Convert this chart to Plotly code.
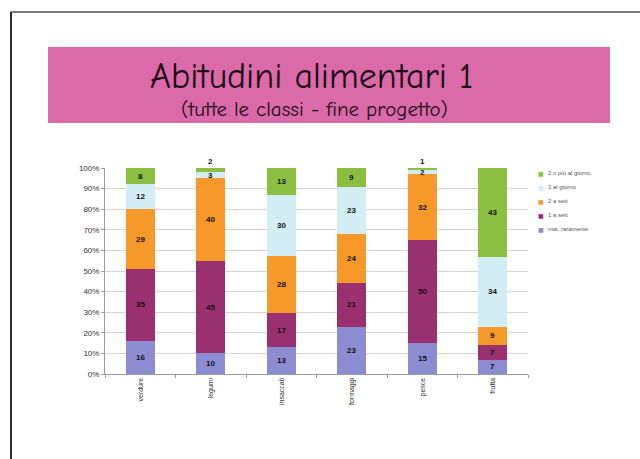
import numpy as np
import plotly.graph_objects as go

categories = ["verdure", "legumi", "insaccati", "formaggi", "pesce", "frutta"]

mai_raramente = [16, 10, 13, 23, 15, 7]
una_sett = [35, 45, 17, 21, 50, 7]
due_sett = [29, 40, 28, 24, 32, 9]
uno_giorno = [12, 3, 30, 23, 2, 34]
due_piu_giorno = [8, 2, 13, 9, 1, 43]

series = [
    ("mai, raramente", mai_raramente, "#8C8CD2"),
    ("1 a sett", una_sett, "#9B3070"),
    ("2 a sett", due_sett, "#F7982A"),
    ("1 al giorno", uno_giorno, "#D3EEF5"),
    ("2 o più al giorno", due_piu_giorno, "#8CBF3F"),
]

y_ticks = list(range(0, 101, 10))
y_tick_labels = [f"{v}%" for v in y_ticks]

fig = go.Figure()
for name, vals, color in series:
    fig.add_trace(go.Bar(
        name=name, x=categories, y=vals,
        marker=dict(color=color, line=dict(width=0)),
        showlegend=False,
    ))

# value labels, positioned from the normalised stack
raw = np.array([s[1] for s in series], dtype=float)
totals = raw.sum(axis=0)
pct = raw / totals * 100
tops = np.cumsum(pct, axis=0)
mids = tops - pct / 2
label_font = dict(size=8, color="#111111", family="Liberation Sans, Arial")
annotations = []
n_series = len(series)
for i in range(n_series):
    for j, cat in enumerate(categories):
        v = raw[i, j]
        if i == n_series - 1 and v < 3:
            annotations.append(dict(
                x=cat, y=100, xref="x", yref="y", text=f"<b>{int(v)}</b>",
                showarrow=False, yanchor="bottom", font=label_font,
            ))
        else:
            annotations.append(dict(
                x=cat, y=mids[i, j], xref="x", yref="y", text=f"<b>{int(v)}</b>",
                showarrow=False, font=label_font,
            ))

# compact legend, top entry first
for k, (name, _, color) in enumerate(reversed(series)):
    yk = (374 - (173 + 14 * k)) / 206
    annotations.append(dict(
        x=1.0307, y=yk, xref="paper", yref="paper", text="■",
        showarrow=False, xanchor="center", yanchor="middle",
        font=dict(size=6, color=color, family="DejaVu Sans"),
    ))
    annotations.append(dict(
        x=1.0426, y=yk, xref="paper", yref="paper", text=name,
        showarrow=False, xanchor="left", yanchor="middle",
        font=dict(size=6, color="#555555", family="Liberation Sans, Arial"),
    ))

# slide heading
heading_font = "Comic Sans MS, Comic Neue, Lato, sans-serif"
annotations.append(dict(
    x=0.487, y=1.335, xref="paper", yref="paper", text="Abitudini alimentari 1",
    showarrow=False, yanchor="bottom",
    font=dict(size=36, color="#1a0a14", family=heading_font),
))
annotations.append(dict(
    x=0.496, y=1.285, xref="paper", yref="paper", text="(tutte le classi - fine progetto)",
    showarrow=False, yanchor="middle",
    font=dict(size=21, color="#1a0a14", family=heading_font),
))

shapes = [
    # heading banner
    dict(type="rect", xref="paper", yref="paper", x0=-0.1348, x1=1.1939, y0=1.2184, y1=1.5874,
         fillcolor="#DB6BA8", line=dict(width=0), layer="below"),
    # page frame
    dict(type="line", xref="paper", yref="paper", x0=-0.2222, x1=1.27, y0=1.7573, y1=1.7573,
         line=dict(color="#7a7a7a", width=2)),
    dict(type="line", xref="paper", yref="paper", x0=-0.2222, x1=-0.2222, y0=1.7573, y1=-0.42,
         line=dict(color="#2a2a2a", width=2)),
]

fig.update_layout(
    barmode="stack",
    barnorm="percent",
    bargap=0.59,
    width=640, height=459,
    margin=dict(l=105, r=112, t=168, b=85),
    paper_bgcolor="white",
    plot_bgcolor="white",
    showlegend=False,
    annotations=annotations,
    shapes=shapes,
    font=dict(family="Liberation Sans, Arial", color="#333333"),
)
fig.update_yaxes(
    range=[0, 100], tickvals=y_ticks, ticktext=y_tick_labels,
    showgrid=True, gridcolor="#D4D4D4", gridwidth=1,
    showline=True, linecolor="#9a9a9a", linewidth=1,
    ticks="outside", ticklen=3, tickcolor="#9a9a9a",
    tickfont=dict(size=8, color="#333333"), zeroline=False,
)
fig.update_xaxes(
    tickangle=-90, tickfont=dict(size=7, color="#333333"),
    showline=True, linecolor="#9a9a9a", linewidth=1,
    ticks="outside", ticklen=3, tickcolor="#9a9a9a", tickson="boundaries",
)

fig.write_html("out.html")
